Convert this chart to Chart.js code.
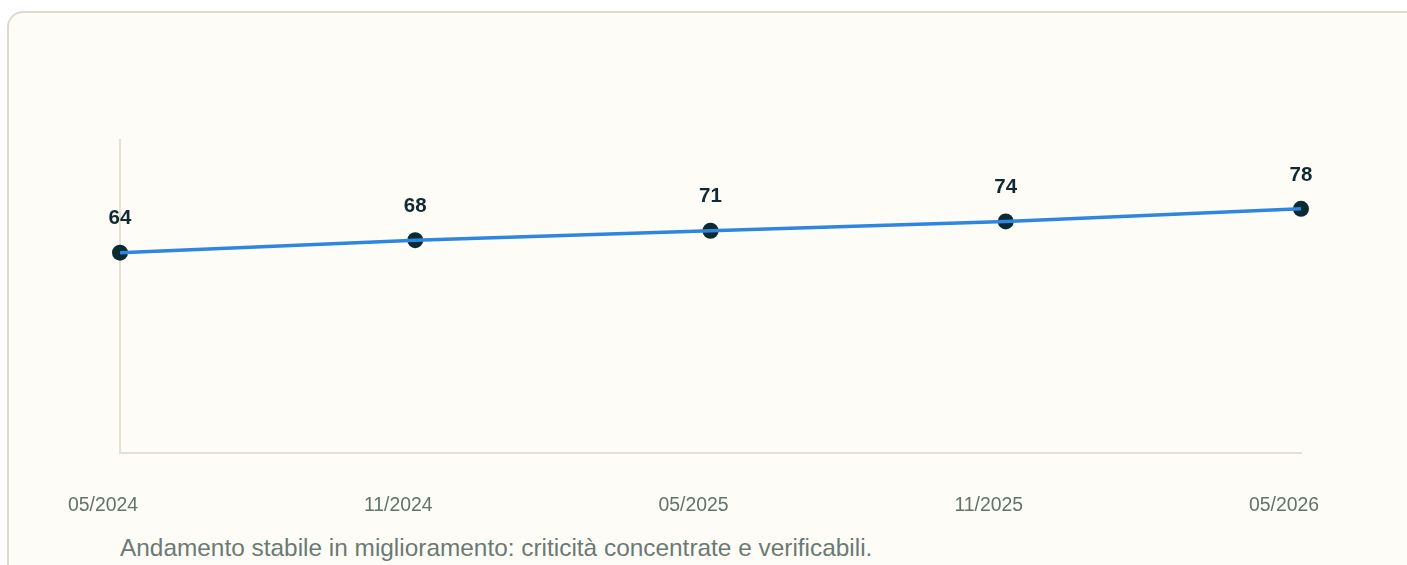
<!DOCTYPE html>
<html>
<head>
<meta charset="utf-8">
<script src="https://cdn.jsdelivr.net/npm/chart.js@4.4.1/dist/chart.umd.min.js"></script>
<style>
  html, body {
    margin: 0;
    padding: 0;
    background: #ffffff;
    width: 1407px;
    height: 565px;
    overflow: hidden;
    font-family: "Liberation Sans", Arial, sans-serif;
  }
  .card {
    position: absolute;
    left: 7px;
    top: 11px;
    width: 1420px;
    height: 570px;
    box-sizing: border-box;
    border: 2px solid #dedace;
    border-radius: 16px;
    background: #fdfcf7;
  }
  #chart {
    position: absolute;
    left: 0;
    top: 0;
  }
  .caption {
    position: absolute;
    left: 120px;
    top: 534px;
    font-size: 24.4px;
    line-height: 28px;
    color: #6b7a74;
    white-space: nowrap;
  }
</style>
</head>
<body>
<div class="card"></div>
<canvas id="chart" width="1407" height="530"></canvas>
<div class="caption">Andamento stabile in miglioramento: criticità concentrate e verificabili.</div>

<script>
// data
const periods = ["05/2024", "11/2024", "05/2025", "11/2025", "05/2026"];
const scores = [64, 68, 71, 74, 78];
const yMin = 0;
const yMax = 100;

// value labels above each point (no datalabels plugin offline)
const valueLabels = {
  id: "valueLabels",
  afterDatasetsDraw(chart) {
    const ctx = chart.ctx;
    const meta = chart.getDatasetMeta(1);
    ctx.save();
    ctx.font = "bold 20.5px 'Liberation Sans', Arial, sans-serif";
    ctx.fillStyle = "#0f2a30";
    ctx.textAlign = "center";
    ctx.textBaseline = "middle";
    meta.data.forEach((pt, i) => {
      ctx.fillText(String(scores[i]), pt.x, pt.y - 34);
    });
    ctx.restore();
  },
};

function initChart() {
  const ctx = document.getElementById("chart");
  if (!ctx) return;

  new Chart(ctx, {
    type: "line",
    data: {
      labels: periods,
      datasets: [
        {
          // line on top of the markers
          data: scores,
          borderColor: "#2e86de",
          borderWidth: 3.5,
          pointRadius: 0,
          fill: false,
          tension: 0,
        },
        {
          data: scores,
          showLine: false,
          pointRadius: 8,
          pointBackgroundColor: "#0b2a31",
          pointBorderColor: "#0b2a31",
          pointBorderWidth: 0,
        },
      ],
    },
    options: {
      responsive: false,
      animation: false,
      layout: {
        padding: { left: 120, right: 106, top: 140, bottom: 17 },
      },
      scales: {
        x: {
          offset: false,
          grid: { display: false },
          border: { display: true, color: "#e6e0d4", width: 2 },
          ticks: {
            color: "#62726c",
            font: { size: 19.4, family: "'Liberation Sans', Arial, sans-serif" },
            padding: 33,
            labelOffset: -17,
            maxRotation: 0,
            autoSkip: false,
          },
          afterFit: (scale) => {
            scale.height = 60;
          },
        },
        y: {
          min: yMin,
          max: yMax,
          grid: { display: false },
          border: { display: true, color: "#e6e0d4", width: 2 },
          ticks: { display: false },
          afterFit: (scale) => {
            scale.width = 0;
          },
        },
      },
      plugins: {
        legend: { display: false },
        tooltip: { enabled: false },
      },
    },
    plugins: [valueLabels],
  });
}

document.addEventListener("DOMContentLoaded", initChart);
</script>
</body>
</html>
